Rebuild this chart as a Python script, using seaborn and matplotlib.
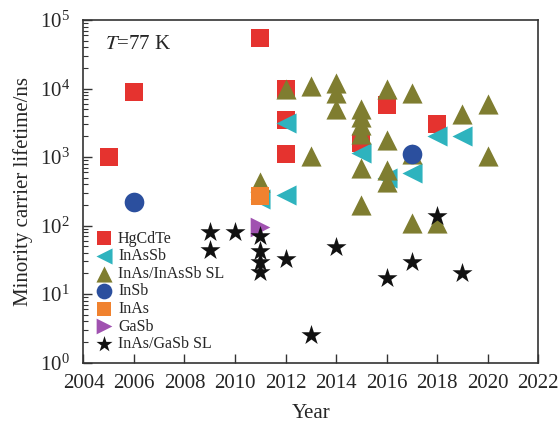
import numpy as np
import pandas as pd
import matplotlib
matplotlib.use("Agg")
import matplotlib.pyplot as plt
import seaborn as sns

# ── Data ─────────────────────────────────────────────────────────────────────
HGCDTE_YEAR = [2005, 2006, 2011, 2012, 2012, 2012, 2015, 2016, 2018]
HGCDTE_TAU  = [1000, 9000, 55000, 10000, 3500, 1100, 1600, 5700, 3000]

INASSB_YEAR = [2011, 2012, 2012, 2015, 2016, 2017, 2018, 2019]
INASSB_TAU  = [240, 3100, 280, 1150, 500, 590, 2000, 2000]

INAS_INASSB_YEAR = [2011, 2012, 2013, 2013, 2014, 2014, 2014, 2015, 2015, 2015,
                    2015, 2015, 2015, 2016, 2016, 2016, 2016, 2017, 2017, 2017,
                    2018, 2019, 2020, 2020]
INAS_INASSB_TAU  = [430, 10000, 11000, 1050, 12000, 8500, 5000, 5000, 3800, 2900,
                    2200, 700, 200, 10000, 1800, 650, 430, 8500, 1100, 110,
                    110, 4300, 6000, 1050]

INSB_YEAR = [2006, 2017]
INSB_TAU  = [220, 1100]

INAS_YEAR = [2011]
INAS_TAU  = [270]

GASB_YEAR = [2011]
GASB_TAU  = [95]

INAS_GASB_YEAR = [2009, 2009, 2010, 2011, 2011, 2011, 2011, 2012, 2013, 2014,
                  2016, 2017, 2018, 2019]
INAS_GASB_TAU  = [80, 44, 80, 70, 42, 29, 21, 32, 2.5, 49,
                  17, 29, 140, 20]

X_TICKS = list(range(2004, 2023, 2))

# label, years, values, colour, marker, size
SERIES = [
    ("HgCdTe",         HGCDTE_YEAR,      HGCDTE_TAU,      "#e5332f", "s", 170),
    ("InAsSb",         INASSB_YEAR,      INASSB_TAU,      "#2eb3be", "<", 210),
    ("InAs/InAsSb SL", INAS_INASSB_YEAR, INAS_INASSB_TAU, "#7f7d30", "^", 210),
    ("InSb",           INSB_YEAR,        INSB_TAU,        "#2b4f9e", "o", 200),
    ("InAs",           INAS_YEAR,        INAS_TAU,        "#f0822f", "s", 170),
    ("GaSb",           GASB_YEAR,        GASB_TAU,        "#a052b0", ">", 200),
    ("InAs/GaSb SL",   INAS_GASB_YEAR,   INAS_GASB_TAU,   "#111111", "*", 230),
]

# ── Style ────────────────────────────────────────────────────────────────────
sns.set_style("ticks")
plt.rcParams["font.family"] = ["Liberation Serif", "DejaVu Serif"]
plt.rcParams["mathtext.fontset"] = "stix"

fig = plt.figure(figsize=(5.6, 4.26), dpi=100)
ax = fig.add_axes([0.149, 0.149, 0.812, 0.804])

for label, years, vals, color, marker, size in SERIES:
    df = pd.DataFrame({"year": years, "tau": vals})
    sns.scatterplot(
        data=df, x="year", y="tau", ax=ax,
        color=color, marker=marker, s=size, linewidth=0,
        label=label, zorder=3,
    )

ax.set_yscale("log")
ax.set_ylim(1, 1e5)
ax.set_xlim(2004, 2022)
ax.set_xticks(X_TICKS)
ax.set_xticklabels([str(t) for t in X_TICKS])

ax.tick_params(axis="both", which="both", direction="in",
               top=False, right=False, labelsize=15, color="#333333")
ax.tick_params(axis="both", which="major", length=6.5, width=1)
ax.tick_params(axis="y", which="minor", length=3.5, width=0.8)
ax.tick_params(axis="x", which="minor", bottom=False)
ax.tick_params(axis="x", which="major", pad=8)
ax.tick_params(axis="y", which="major", pad=10)
for sp in ax.spines.values():
    sp.set_visible(True)
    sp.set_linewidth(1.2)
    sp.set_color("#333333")

ax.set_xlabel("Year", fontsize=15, labelpad=8)
ax.set_ylabel("Minority carrier lifetime/ns", fontsize=15, labelpad=5)

ax.text(0.048, 0.955, r"$T$=77 K", transform=ax.transAxes,
        fontsize=15, va="top", ha="left")

handles, labels = ax.get_legend_handles_labels()
ax.legend(handles, labels, loc="upper left", bbox_to_anchor=(0.02, 0.385),
          frameon=False, fontsize=11.5, markerscale=0.8,
          handletextpad=0.2, labelspacing=0.1, borderpad=0.0,
          borderaxespad=0.0, handlelength=1.4)

fig.savefig("out.png", dpi=100)
plt.close(fig)
